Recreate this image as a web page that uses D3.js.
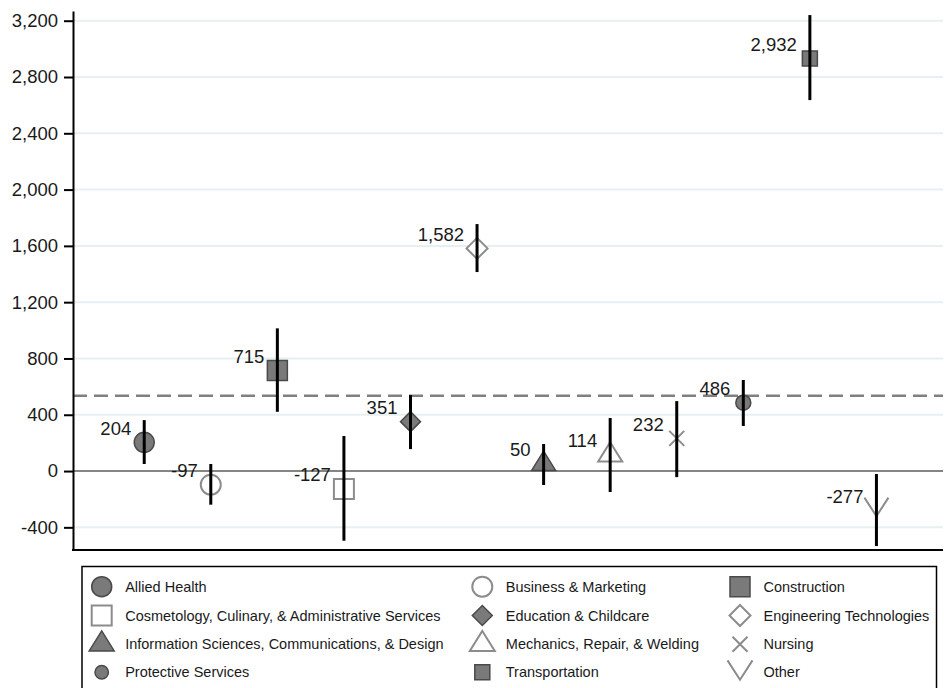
<!DOCTYPE html>
<html><head><meta charset="utf-8">
<script src="https://cdn.jsdelivr.net/npm/d3@7"></script>
<style>body{margin:0;background:#fff} svg{display:block}</style>
</head><body><svg id="c" width="944" height="688"></svg>
<script>
const categories = ["Allied Health", "Business & Marketing", "Construction",
  "Cosmetology, Culinary, & Administrative Services", "Education & Childcare", "Engineering Technologies",
  "Information Sciences, Communications, & Design", "Mechanics, Repair, & Welding", "Nursing",
  "Protective Services", "Transportation", "Other"];
const values = [204, -97, 715, -127, 351, 1582, 50, 114, 232, 486, 2932, -277];
const ciLow  = [50, -239, 421, -495, 156, 1414, -99, -149, -43, 320, 2636, -533];
const ciHigh = [362, 50, 1014, 249, 540, 1755, 192, 377, 497, 647, 3240, -21];
const markerShapes = ["circle","circle","square","square","diamond","diamond","triangle","triangle","cross","circle","square","vee"];
const markerFilled = [true,false,true,false,true,false,true,false,false,true,true,false];
const markerSizes  = [10,10,10,10,10,10.5,12,12,7.5,7.5,7.5,12];
const legendSizes  = [10,10,10,10,10,10.5,12.5,12.5,7.5,6.7,7.5,12.5];
const yTicks = [-400, 0, 400, 800, 1200, 1600, 2000, 2400, 2800, 3200];
const meanValue = 535;

const svg = d3.select("#c");
const FONT = "'Liberation Sans', Arial, Helvetica, sans-serif";
const pLeft = 73, pRight = 943, pTop = 11, pBottom = 550;
const fmt = d3.formatLocale({decimal: ".", thousands: ",", grouping: [3], currency: ["$", ""], minus: "-"}).format(",");

const x = d3.scaleLinear().domain([-0.07, 13]).range([pLeft, pRight]);
const y = d3.scaleLinear().domain([-561, 3269]).range([pBottom, pTop]);

const FILL = "#7a7a7a", FSTROKE = "#4a4a4a", HSTROKE = "#8c8c8c";

function shapePath(shape, s) {
  switch (shape) {
    case "square": return `M${-s},${-s}H${s}V${s}H${-s}Z`;
    case "diamond": return `M0,${-s}L${s},0L0,${s}L${-s},0Z`;
    case "triangle": { const h = s * 1.6; return `M0,${-2*h/3}L${s},${h/3}L${-s},${h/3}Z`; }
    case "cross": return `M${-s},${-s}L${s},${s}M${s},${-s}L${-s},${s}`;
    case "vee": { const h = s * 1.55; return `M${-s},${-2*h/3}L0,${h/3}L${s},${-2*h/3}`; }
  }
  return "";
}
function drawMarker(g, i, s) {
  const shape = markerShapes[i], filled = markerFilled[i];
  let el;
  if (shape === "circle") el = g.append("circle").attr("r", s);
  else el = g.append("path").attr("d", shapePath(shape, s));
  if (shape === "cross" || shape === "vee") {
    el.attr("fill", "none").attr("stroke", HSTROKE).attr("stroke-width", 2);
  } else if (filled) {
    el.attr("fill", FILL).attr("stroke", FSTROKE).attr("stroke-width", 1.5);
  } else {
    el.attr("fill", "#fff").attr("stroke", HSTROKE).attr("stroke-width", 2);
  }
}

// gridlines
svg.append("g").selectAll("line").data(yTicks.filter(d => d !== 0)).join("line")
  .attr("x1", pLeft + 1).attr("x2", pRight).attr("y1", d => y(d)).attr("y2", d => y(d))
  .attr("stroke", "#e6f0f3").attr("stroke-width", 2);
// zero line
svg.append("line").attr("x1", pLeft).attr("x2", pRight).attr("y1", y(0)).attr("y2", y(0))
  .attr("stroke", "#858585").attr("stroke-width", 2);
// mean dashed line
svg.append("line").attr("x1", pLeft).attr("x2", pRight).attr("y1", y(meanValue)).attr("y2", y(meanValue))
  .attr("stroke", "#808080").attr("stroke-width", 2.5).attr("stroke-dasharray", "14,7");

// y axis
const yAxis = svg.append("g").attr("transform", `translate(${pLeft},0)`)
  .call(d3.axisLeft(y).tickValues(yTicks).tickFormat(fmt).tickSize(9).tickSizeOuter(0).tickPadding(6));
yAxis.select(".domain").attr("stroke", "#000").attr("stroke-width", 2);
yAxis.selectAll(".tick line").attr("stroke", "#000").attr("stroke-width", 2);
yAxis.selectAll(".tick text").attr("font-family", FONT).attr("font-size", 18.5).attr("fill", "#1a1a1a");

// x axis baseline
svg.append("line").attr("x1", pLeft - 1).attr("x2", pRight).attr("y1", pBottom).attr("y2", pBottom)
  .attr("stroke", "#000").attr("stroke-width", 2);

// markers
categories.forEach((c, i) => {
  const g = svg.append("g").attr("transform", `translate(${x(i + 1)},${y(values[i])})`);
  drawMarker(g, i, markerSizes[i]);
});
// error bars
svg.append("g").selectAll("line").data(categories).join("line")
  .attr("x1", (d, i) => x(i + 1)).attr("x2", (d, i) => x(i + 1))
  .attr("y1", (d, i) => y(ciLow[i])).attr("y2", (d, i) => y(ciHigh[i]))
  .attr("stroke", "#000").attr("stroke-width", 3);
// value labels
svg.append("g").selectAll("text").data(categories).join("text")
  .attr("x", (d, i) => x(i + 1) - 13).attr("y", (d, i) => y(values[i]) - 14)
  .attr("dy", "0.35em").attr("text-anchor", "end")
  .attr("font-family", FONT).attr("font-size", 18.5).attr("fill", "#1a1a1a")
  .text((d, i) => fmt(values[i]));

// legend
const lg = svg.append("g");
lg.append("rect").attr("x", 82).attr("y", 566.5).attr("width", 854.5).attr("height", 140)
  .attr("fill", "none").attr("stroke", "#000").attr("stroke-width", 1.5);
const colX = [101.7, 482.3, 740];
const rowY = [586.7, 615.5, 644.3, 672.3];
categories.forEach((c, i) => {
  const col = i % 3, row = Math.floor(i / 3);
  const cy = markerShapes[i] === "vee" ? rowY[row] + 1 : rowY[row];
  const g = lg.append("g").attr("transform", `translate(${colX[col]},${cy})`);
  drawMarker(g, i, legendSizes[i]);
  lg.append("text").attr("x", colX[col] + 23.5).attr("y", rowY[row]).attr("dy", "0.35em")
    .attr("font-family", FONT).attr("font-size", 14.5).attr("fill", "#1a1a1a").text(c);
});
</script></body></html>
